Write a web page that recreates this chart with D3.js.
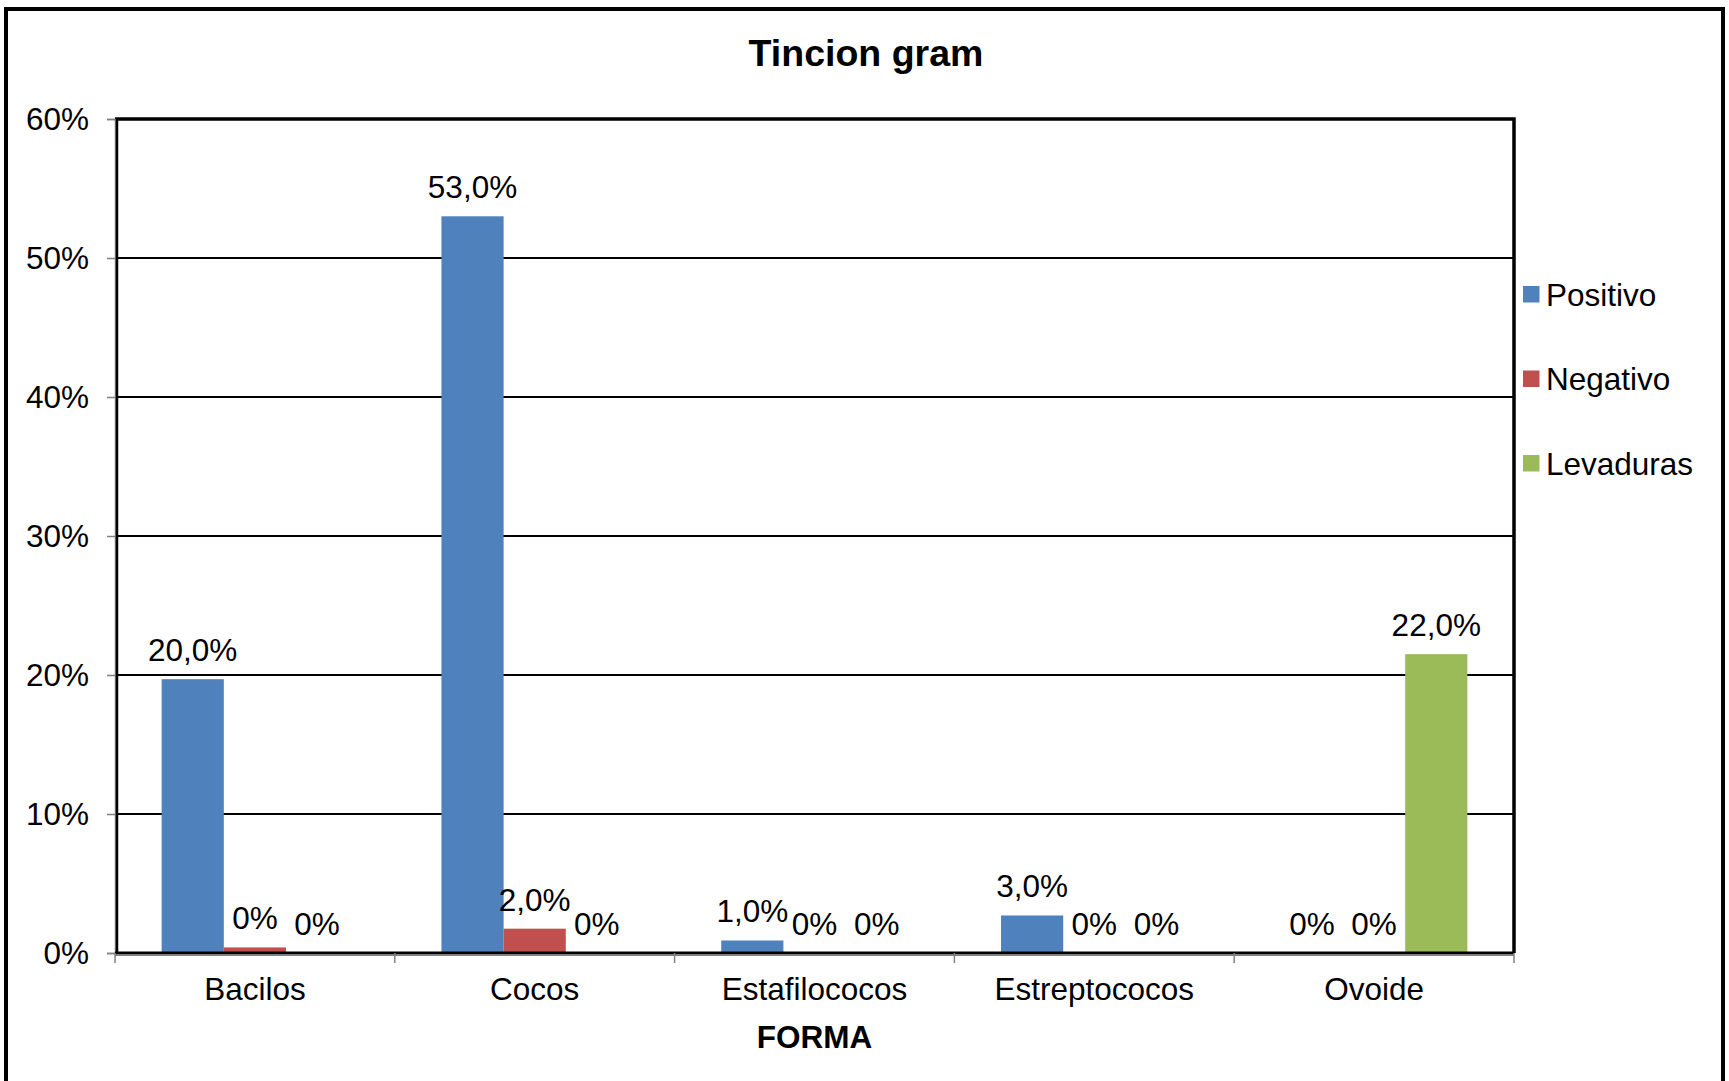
<!DOCTYPE html>
<html>
<head>
<meta charset="utf-8">
<script src="https://cdn.jsdelivr.net/npm/d3@7"></script>
<style>
  body { margin: 0; background: #fff; }
  text { font-family: "Liberation Sans", Arial, sans-serif; fill: #000; }
</style>
</head>
<body>
<div id="chart"></div>
<script>
const categories = ["Bacilos", "Cocos", "Estafilococos", "Estreptococos", "Ovoide"];
const seriesNames = ["Positivo", "Negativo", "Levaduras"];
const positivo = [0.197, 0.53, 0.009, 0.027, 0];
const negativo = [0.004, 0.0175, 0, 0, 0];
const levaduras = [0, 0, 0, 0, 0.215];
const positivoLabels = ["20,0%", "53,0%", "1,0%", "3,0%", "0%"];
const negativoLabels = ["0%", "2,0%", "0%", "0%", "0%"];
const levadurasLabels = ["0%", "0%", "0%", "0%", "22,0%"];
const yTicks = [0, 0.1, 0.2, 0.3, 0.4, 0.5, 0.6];
const colors = ["#4F81BD", "#C0504D", "#9BBB59"];

const canvasWidth = 1729;
const canvasHeight = 1081;
const plot = { left: 115, right: 1514, top: 119, bottom: 953 };
const fontSize = 31.5;

const svg = d3.select("#chart")
    .append("svg")
    .attr("width", canvasWidth)
    .attr("height", canvasHeight);

// outer chart frame (bottom edge runs off the page)
svg.append("rect")
    .attr("x", 6).attr("y", 9)
    .attr("width", 1717).attr("height", 1200)
    .attr("fill", "#fff")
    .attr("stroke", "#000")
    .attr("stroke-width", 4);

svg.append("text")
    .attr("x", 866).attr("y", 66)
    .attr("text-anchor", "middle")
    .attr("font-size", 37.5)
    .attr("font-weight", "bold")
    .text("Tincion gram");

const x0 = d3.scaleBand().domain(categories).range([plot.left, plot.right]);
const x1 = d3.scaleBand().domain(seriesNames).range([0, x0.bandwidth()]).paddingOuter(0.75);
const y = d3.scaleLinear().domain([0, 0.6]).range([plot.bottom, plot.top]);

// gridlines
svg.append("g")
    .selectAll("line")
    .data(yTicks.slice(1))
    .join("line")
    .attr("x1", plot.left).attr("x2", plot.right)
    .attr("y1", d => y(d)).attr("y2", d => y(d))
    .attr("stroke", "#000")
    .attr("stroke-width", 2.2);

// top and right plot border
svg.append("path")
    .attr("d", `M${plot.left},${plot.top}H${plot.right}V${plot.bottom}`)
    .attr("fill", "none")
    .attr("stroke", "#000")
    .attr("stroke-width", 3.5);

// y axis
const yAxis = d3.axisLeft(y).tickValues(yTicks).tickSize(8).tickPadding(18)
    .tickFormat(d => Math.round(d * 100) + "%");
const gy = svg.append("g")
    .attr("transform", `translate(${plot.left},0)`)
    .call(yAxis);
gy.select(".domain").attr("stroke", "#808080").attr("stroke-width", 1.5);
gy.selectAll(".tick line").attr("stroke", "#808080").attr("stroke-width", 1.5);
gy.selectAll(".tick text").attr("font-size", fontSize).attr("font-family", "Liberation Sans, Arial, sans-serif");
svg.append("line")
    .attr("x1", plot.left + 2).attr("x2", plot.left + 2)
    .attr("y1", plot.top).attr("y2", plot.bottom)
    .attr("stroke", "#000").attr("stroke-width", 2.5);

// bars
const table = categories.map((c, i) => ({
    category: c,
    items: [
        { series: "Positivo", value: positivo[i], label: positivoLabels[i] },
        { series: "Negativo", value: negativo[i], label: negativoLabels[i] },
        { series: "Levaduras", value: levaduras[i], label: levadurasLabels[i] }
    ]
}));

const groups = svg.append("g")
    .selectAll("g")
    .data(table)
    .join("g")
    .attr("transform", d => `translate(${x0(d.category)},0)`);

groups.selectAll("rect")
    .data(d => d.items)
    .join("rect")
    .attr("x", d => x1(d.series))
    .attr("width", x1.bandwidth())
    .attr("y", d => y(d.value))
    .attr("height", d => y(0) - y(d.value))
    .attr("fill", (d, i) => colors[i]);

groups.selectAll("text")
    .data(d => d.items)
    .join("text")
    .attr("x", d => x1(d.series) + x1.bandwidth() / 2)
    .attr("y", d => y(d.value) - 18)
    .attr("text-anchor", "middle")
    .attr("font-size", fontSize)
    .text(d => d.label);

// x axis
const xAxis = d3.axisBottom(x0).tickSize(0).tickPadding(25);
const gx = svg.append("g")
    .attr("transform", `translate(0,${plot.bottom})`)
    .call(xAxis);
gx.select(".domain").remove();
gx.selectAll(".tick text").attr("font-size", fontSize).attr("font-family", "Liberation Sans, Arial, sans-serif");
svg.append("line")
    .attr("x1", plot.left).attr("x2", plot.right)
    .attr("y1", plot.bottom).attr("y2", plot.bottom)
    .attr("stroke", "#000").attr("stroke-width", 3);
svg.append("line")
    .attr("x1", plot.left).attr("x2", plot.right)
    .attr("y1", plot.bottom + 2.5).attr("y2", plot.bottom + 2.5)
    .attr("stroke", "#808080").attr("stroke-width", 1.2);
svg.append("g")
    .selectAll("line")
    .data(categories.concat(["end"]))
    .join("line")
    .attr("x1", d => d === "end" ? plot.right : x0(d))
    .attr("x2", d => d === "end" ? plot.right : x0(d))
    .attr("y1", plot.bottom).attr("y2", plot.bottom + 10)
    .attr("stroke", "#808080").attr("stroke-width", 1.5);

svg.append("text")
    .attr("x", (plot.left + plot.right) / 2)
    .attr("y", 1048)
    .attr("text-anchor", "middle")
    .attr("font-size", fontSize)
    .attr("font-weight", "bold")
    .text("FORMA");

// legend
const legend = svg.append("g")
    .selectAll("g")
    .data(seriesNames)
    .join("g")
    .attr("transform", (d, i) => `translate(1523,${294 + i * 84.5})`);
legend.append("rect")
    .attr("x", 0).attr("y", -8)
    .attr("width", 16.5).attr("height", 16.5)
    .attr("fill", (d, i) => colors[i]);
legend.append("text")
    .attr("x", 23).attr("y", 11.5)
    .attr("font-size", fontSize)
    .text(d => d);
</script>
</body>
</html>
